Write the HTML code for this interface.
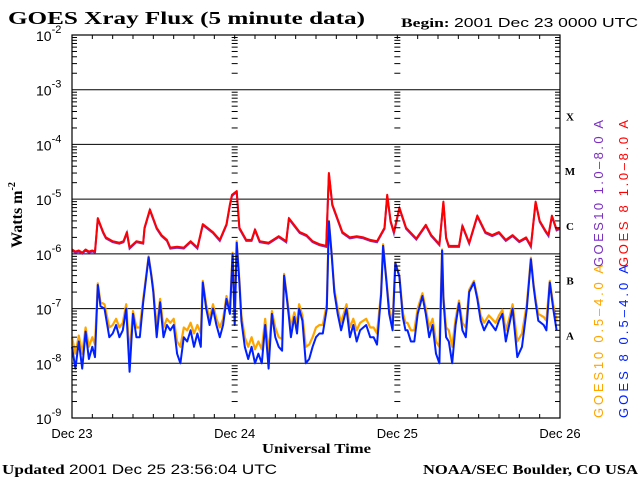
<!DOCTYPE html>
<html><head><meta charset="utf-8"><style>
body{margin:0;background:#fff;width:640px;height:480px;overflow:hidden}
svg{display:block}
.ser{font-family:"Liberation Serif",serif;font-weight:bold}
.sans{font-family:"Liberation Sans",sans-serif}
</style></head><body>
<svg id="chart" width="640" height="480" viewBox="0 0 640 480">
<rect width="640" height="480" fill="#fff"/>
<text x="8" y="24" class="ser" font-size="18" textLength="357" lengthAdjust="spacingAndGlyphs">GOES Xray Flux (5 minute data)</text>
<text x="401" y="27" class="ser" font-size="13" textLength="237" lengthAdjust="spacingAndGlyphs">Begin:  <tspan class="sans" font-weight="normal">2001 Dec 23 0000 UTC</tspan></text>
<text transform="translate(22,215) rotate(-90)" text-anchor="middle" class="ser" font-size="16">Watts m<tspan font-size="10" dy="-7">-2</tspan></text>
<text x="262" y="453" class="ser" font-size="14" textLength="109" lengthAdjust="spacingAndGlyphs">Universal Time</text>
<text x="2" y="474" class="ser" font-size="14" textLength="275" lengthAdjust="spacingAndGlyphs">Updated <tspan class="sans" font-weight="normal">2001 Dec 25 23:56:04 UTC</tspan></text>
<text x="423" y="474" class="ser" font-size="14" textLength="215" lengthAdjust="spacingAndGlyphs">NOAA/SEC Boulder, CO USA</text>
<g id="grid"></g><g id="series"></g><g id="axes"></g>
<text transform="translate(603,267) rotate(-90)" class="sans" font-size="13" fill="#7a2fc0" textLength="147" lengthAdjust="spacing">GOES10 1.0–8.0 A</text>
<text transform="translate(628,267) rotate(-90)" class="sans" font-size="13" fill="#f00" textLength="147" lengthAdjust="spacing">GOES 8 1.0–8.0 A</text>
<text transform="translate(603,418) rotate(-90)" class="sans" font-size="13" fill="#ffa500" textLength="153" lengthAdjust="spacing">GOES10 0.5–4.0 A</text>
<text transform="translate(628,418) rotate(-90)" class="sans" font-size="13" fill="#0020ff" textLength="153" lengthAdjust="spacing">GOES 8 0.5–4.0 A</text>
</svg>
<script>
const decades=[-2,-3,-4,-5,-6,-7,-8,-9];
const dayLabels=["Dec 23","Dec 24","Dec 25","Dec 26"];
const classLabels=["X","M","C","B","A"];
const classExp=[-4,-5,-6,-7,-8];
const redT=[0,0.5,1,1.5,2,2.5,3,3.4,3.8,4.6,5,6,7,7.6,8.1,8.5,9.5,10.5,10.7,11.5,12.5,13.2,14,14.5,15.5,16.5,17.5,18.5,19.3,20.8,21.8,22.8,23.3,23.6,24.3,24.7,25.7,26.5,27,27.7,29,30.5,31.6,32,33.6,34.6,35.5,36.5,37.5,37.9,38.4,39.9,41,42,43,44,45,46.1,46.5,47,47.5,48.3,49.3,50.8,52.2,53,54.2,54.8,55.2,55.6,57.1,57.6,58.6,59.8,61,62,63,64,65,66,67,67.7,68.4,69,69.9,70.3,70.8,71.5,72];
const redV=[1.2e-6,1.1e-6,1.15e-6,1.05e-6,1.2e-6,1.1e-6,1.15e-6,1.1e-6,4.5e-6,2.5e-6,2e-6,1.7e-6,1.6e-6,1.7e-6,2.5e-6,1.3e-6,1.7e-6,1.6e-6,3e-6,6.5e-6,3e-6,2.2e-6,1.8e-6,1.3e-6,1.35e-6,1.3e-6,1.7e-6,1.3e-6,3.5e-6,2.5e-6,1.8e-6,3.5e-6,8e-6,1.2e-5,1.4e-5,3e-6,1.8e-6,1.8e-6,2.8e-6,1.7e-6,1.6e-6,2.1e-6,1.7e-6,4.5e-6,2.5e-6,2.2e-6,1.7e-6,1.5e-6,1.4e-6,3e-5,8e-6,2.5e-6,2e-6,2.1e-6,2e-6,1.8e-6,1.7e-6,3e-6,1.2e-5,4e-6,2.5e-6,7e-6,3e-6,1.9e-6,3.4e-6,2.2e-6,1.5e-6,9e-6,2e-6,1.4e-6,1.4e-6,3.3e-6,1.6e-6,5e-6,2.5e-6,2.2e-6,2.5e-6,1.8e-6,2.2e-6,1.7e-6,2e-6,1.4e-6,9e-6,4e-6,2.6e-6,2.2e-6,5e-6,2.8e-6,3e-6];
const blueT=[0,0.5,1,1.5,2,2.5,3,3.4,3.8,4.2,4.8,5.5,6,6.5,7,7.5,8,8.5,9,9.5,10,10.5,11.3,11.7,12,12.5,13,13.5,14,14.5,15,15.5,16,16.5,17,17.5,18,18.5,19,19.3,19.8,20.3,20.8,21.3,21.8,22.3,22.8,23.3,23.7,24,24.3,24.7,25,25.5,26,26.5,27,27.5,28,28.5,29,29.5,30,30.5,31,31.3,31.7,32,32.3,32.8,33.2,33.5,34,34.5,35,35.5,36,36.5,37,37.6,37.9,38.3,38.7,39.2,39.7,40.5,41,41.5,42,42.5,43.4,44,44.5,45,45.6,45.9,46.4,46.8,47.3,47.7,48.3,48.8,49.2,49.5,50,50.5,51,51.7,52.2,52.7,53.2,53.7,54.2,54.6,54.8,55.2,55.6,56.1,56.6,57.1,57.6,58.1,58.6,59.3,59.8,60.3,60.8,61.5,62.5,63,63.5,64,64.5,65,65.7,66.4,67.1,67.7,68.1,68.4,68.8,69.6,70,70.5,71,71.5,72];
const blueV=[2e-8,8e-9,2.5e-8,8e-9,3.8e-8,1.2e-8,2e-8,1.3e-8,2.7e-7,1.1e-7,1e-7,3e-8,3.5e-8,5e-8,3e-8,4e-8,1e-7,7e-9,8e-8,3e-8,3e-8,1.3e-7,8.7e-7,4e-7,2e-7,3e-8,1.3e-7,3e-8,5e-8,4e-8,5e-8,1.5e-8,1e-8,3e-8,2.5e-8,4e-8,2e-8,3.5e-8,2e-8,3e-7,1e-7,5e-8,1e-7,5e-8,3e-8,5e-8,1.5e-7,8e-8,1e-6,5e-8,1.6e-6,3e-7,6e-8,2e-8,1.2e-8,2e-8,1e-8,1.5e-8,1e-8,5e-8,8e-9,8e-8,3e-8,2e-8,1.7e-8,4e-7,1.5e-7,7e-8,3e-8,7e-8,3.5e-8,1e-7,6e-8,1e-8,1.2e-8,2e-8,3e-8,3.5e-8,3.5e-8,1e-7,3.9e-6,1e-6,2e-7,8e-8,4e-8,1e-7,3e-8,5e-8,2.5e-8,4e-8,5e-8,3e-8,3e-8,2.2e-8,1.8e-7,1.4e-6,3e-7,8e-8,4e-8,6.8e-7,3.8e-7,7e-8,4e-8,4e-8,2.5e-8,2.5e-8,8e-8,1.7e-7,8e-8,3e-8,5e-8,1.5e-8,1e-8,1.15e-6,1.5e-7,3e-8,2.5e-8,1e-8,5e-8,1.25e-7,4e-8,3e-8,2e-7,3e-7,1.5e-7,6e-8,4e-8,6e-8,4e-8,6e-8,8e-8,2.5e-8,5e-8,1e-7,1.3e-8,2e-8,1e-7,8e-7,2.5e-7,1.3e-7,6e-8,5e-8,4e-8,3e-7,1e-7,4e-8];
const orangeV=[3e-8,1.5e-8,3.2e-8,1.5e-8,4.5e-8,2e-8,3e-8,2.2e-8,2.9e-7,1.3e-7,1.2e-7,4.5e-8,5e-8,6.5e-8,4.5e-8,5.5e-8,1.2e-7,1.5e-8,9e-8,4.5e-8,4.5e-8,1.5e-7,9e-7,4.3e-7,2.3e-7,4.5e-8,1.5e-7,4.5e-8,6.5e-8,5.5e-8,6.5e-8,2.5e-8,2e-8,4.5e-8,4e-8,5.5e-8,3.5e-8,5e-8,3.5e-8,3.2e-7,1.2e-7,6.5e-8,1.2e-7,6.5e-8,4.5e-8,6.5e-8,1.7e-7,9e-8,1.05e-6,7e-8,1.7e-6,3.3e-7,7.5e-8,3e-8,2e-8,3e-8,1.8e-8,2.5e-8,1.8e-8,6.5e-8,1.5e-8,9e-8,4.5e-8,3e-8,2.8e-8,4.3e-7,1.7e-7,8.5e-8,4.5e-8,8.5e-8,5e-8,1.2e-7,7.5e-8,2e-8,2.2e-8,3e-8,4.5e-8,5e-8,5e-8,1.2e-7,4e-6,1.05e-6,2.3e-7,1e-7,5.5e-8,1.2e-7,4.5e-8,6.5e-8,4e-8,5.5e-8,6.5e-8,4.5e-8,4.5e-8,3.5e-8,2e-7,1.5e-6,3.3e-7,1e-7,5.5e-8,7e-7,4e-7,8.5e-8,5.5e-8,5.5e-8,4e-8,4e-8,1e-7,1.9e-7,1e-7,4.5e-8,6.5e-8,2.5e-8,2e-8,1.2e-6,1.7e-7,4.5e-8,4e-8,2e-8,6.5e-8,1.4e-7,5.5e-8,4.5e-8,2.2e-7,3.2e-7,1.7e-7,7.5e-8,5.5e-8,7.5e-8,5.5e-8,7.5e-8,9.5e-8,4e-8,6.5e-8,1.2e-7,2.5e-8,3.5e-8,1.2e-7,8.5e-7,2.8e-7,1.5e-7,8e-8,7e-8,6e-8,3.2e-7,1.2e-7,6e-8];

const X0=72,X1=560,Y0=35,Y1=418,HOURS=72;
const NS="http://www.w3.org/2000/svg";
function xs(h){return X0+(X1-X0)*h/HOURS;}
function ys(v){const l=Math.log10(v);return Y0+(-2-l)*(Y1-Y0)/7;}
function mk(tag,attrs,parent){const e=document.createElementNS(NS,tag);for(const k in attrs)e.setAttribute(k,attrs[k]);parent.appendChild(e);return e;}
const grid=document.getElementById('grid'),axes=document.getElementById('axes'),ser=document.getElementById('series');

decades.forEach((d,i)=>{
  const y=ys(Math.pow(10,d));
  if(d<-2&&d>-9){const l=mk('line',{x1:X0,x2:X1,y1:y,y2:y,stroke:'#000','stroke-width':1},grid);
  
  }
  const t=mk('text',{x:36,y:y+6,'font-size':14,class:'sans'},axes);
  
  
  t.textContent='10';
  const s=mk('tspan',{'font-size':11,dy:-8},t);s.textContent=String(d);
  if(d>-9){for(let m=2;m<=9;m++){
    const ym=ys(m*Math.pow(10,d-1));
    [[X0,X0+5],[X1-5,X1],[xs(24)-3,xs(24)+3],[xs(48)-3,xs(48)+3]].forEach(p=>{
      const tk=mk('line',{x1:p[0],x2:p[1],y1:ym,y2:ym,stroke:'#000','stroke-width':1},axes);
      
      
    });}}
});
for(let h=3;h<HOURS;h+=3){const x=xs(h);
  [[Y0,Y0+4],[Y1-4,Y1]].forEach(p=>{const tk=mk('line',{x1:x,x2:x,y1:p[0],y2:p[1],stroke:'#000'},axes);
  
  });}
dayLabels.forEach((lab,i)=>{const t=mk('text',{x:xs(i*24),y:438,'text-anchor':'middle','font-size':13,class:'sans'},axes);
  
  
  t.textContent=lab;});
const fr=mk('rect',{x:X0,y:Y0,width:X1-X0,height:Y1-Y0,fill:'none',stroke:'#000','stroke-width':1.2},axes);


classLabels.forEach((c,i)=>{const t=mk('text',{x:570,y:ys(Math.pow(10,classExp[i]))-24,'text-anchor':'middle','font-size':11,class:'ser'},axes);
  
  
  t.textContent=c;});

function poly(T,V){let d='';for(let i=0;i<T.length;i++){const x=xs(T[i]).toFixed(1),y=ys(V[i]).toFixed(1);
  d+=(i===0?'M':'L')+x+' '+y;}return d;}
const po=mk('path',{d:poly(blueT,orangeV),fill:'none',stroke:'#ffa500','stroke-width':2.2,'stroke-linejoin':'round'},ser);


const pb=mk('path',{d:poly(blueT,blueV),fill:'none',stroke:'#0020ff','stroke-width':2,'stroke-linejoin':'round'},ser);


const pp=mk('path',{d:poly(redT,redV),fill:'none',stroke:'#7a2fc0','stroke-width':2,transform:'translate(0,1)'},ser);


const pr=mk('path',{d:poly(redT,redV),fill:'none',stroke:'#f00','stroke-width':2,'stroke-linejoin':'round'},ser);


</script>
</body></html>
